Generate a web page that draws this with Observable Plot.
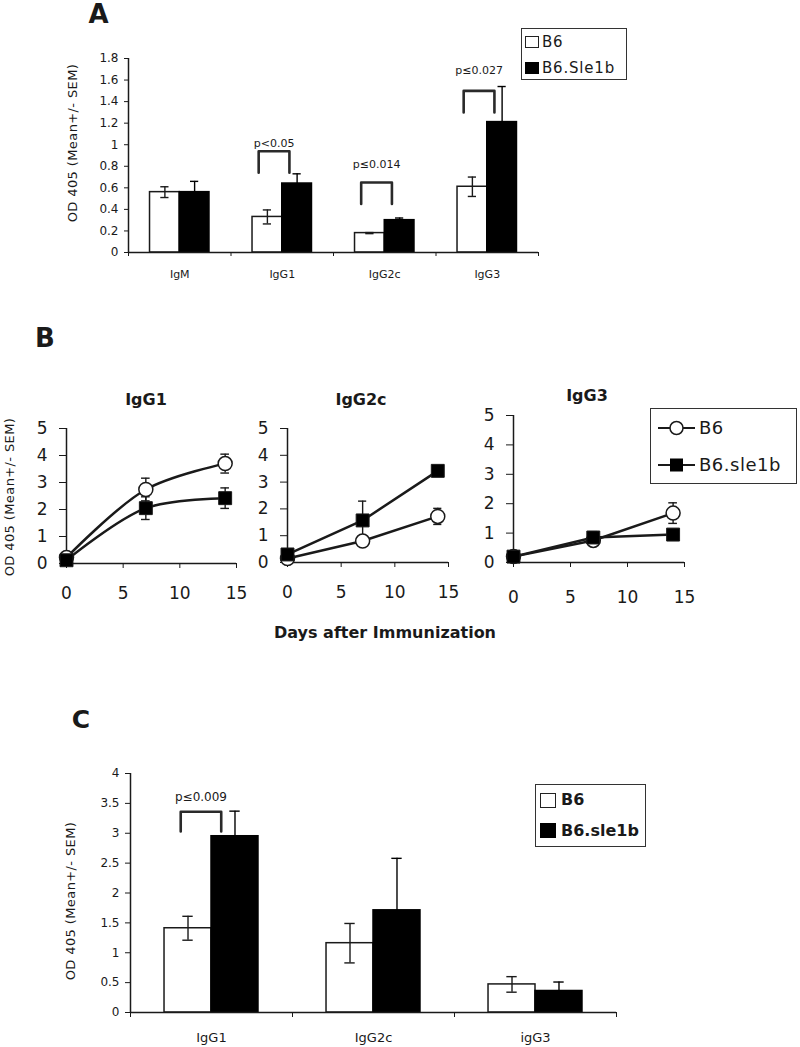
<!DOCTYPE html>
<html>
<head>
<meta charset="utf-8">
<script src="https://cdn.jsdelivr.net/npm/d3@7"></script>
<script src="https://cdn.jsdelivr.net/npm/@observablehq/plot@0.6"></script>
<style>
  body { margin: 0; background: #fff; }
  #root { position: relative; width: 800px; height: 1047px; overflow: hidden; font-family: "DejaVu Sans", sans-serif; color: #1a1a1a; background: #fff; }
  #root svg { position: absolute; }
</style>
</head>
<body>
<div id="root"></div>
<script>
// ---------------- DATA ----------------
// Panel A
const catsA = ["IgM", "IgG1", "IgG2c", "IgG3"];
const aB6 = [0.56, 0.33, 0.18, 0.61];
const aB6Sem = [0.05, 0.065, 0.005, 0.09];
const aSle = [0.56, 0.64, 0.30, 1.21];
const aSleSem = [0.10, 0.09, 0.02, 0.33];
const aTicks = [0, 0.2, 0.4, 0.6, 0.8, 1, 1.2, 1.4, 1.6, 1.8];
const aSigCats = ["IgG1", "IgG2c", "IgG3"];
const aSigText = ["p<0.05", "p≤0.014", "p≤0.027"];
const aSigTop = [0.94, 0.65, 1.50];
const aSigLeg = [0.74, 0.45, 1.30];
const aSigLabel = [1.01, 0.82, 1.69];

// Panel B
const days = [0, 7, 14];
const bTitles = ["IgG1", "IgG2c", "IgG3"];
const bB6 = [[0.22, 2.74, 3.70], [0.15, 0.80, 1.72], [0.20, 0.75, 1.68]];
const bB6Sem = [[0.05, 0.42, 0.35], [0.05, 0.10, 0.30], [0.05, 0.15, 0.35]];
const bSle = [[0.12, 2.05, 2.42], [0.30, 1.57, 3.42], [0.20, 0.85, 0.95]];
const bSleSem = [[0.05, 0.42, 0.38], [0.05, 0.72, 0.08], [0.05, 0.20, 0.08]];
const bXTicks = [0, 5, 10, 15];
const bYTicks = [0, 1, 2, 3, 4, 5];

// Panel C
const catsC = ["IgG1", "IgG2c", "igG3"];
const cB6 = [1.41, 1.16, 0.47];
const cB6Sem = [0.20, 0.33, 0.13];
const cSle = [2.95, 1.71, 0.36];
const cSleSem = [0.42, 0.87, 0.15];
const cTicks = [0, 0.5, 1, 1.5, 2, 2.5, 3, 3.5, 4];
const cSigCats = ["IgG1"];
const cSigText = ["p≤0.009"];
const cSigTop = [3.36];
const cSigLeg = [3.03];
const cSigLabel = [3.60];

const legendBar = ["B6", "B6.Sle1b"];
const legendBarC = ["B6", "B6.sle1b"];
const legendLine = ["B6", "B6.sle1b"];
const yTitle = "OD 405 (Mean+/- SEM)";
const xTitleB = "Days after Immunization";

// ---------------- HELPERS ----------------
const root = document.getElementById("root");
const INK = "#1a1a1a";

function label(str, cx, cy, style = {}, rotate = false) {
  const d = document.createElement("div");
  d.textContent = str;
  Object.assign(d.style, {
    position: "absolute", left: cx + "px", top: cy + "px",
    transform: "translate(-50%,-50%)" + (rotate ? " rotate(-90deg)" : ""),
    whiteSpace: "nowrap", lineHeight: "1"
  }, style);
  root.appendChild(d);
  return d;
}
function box(left, top, w, h, style = {}) {
  const d = document.createElement("div");
  Object.assign(d.style, {position: "absolute", left: left + "px", top: top + "px",
    width: w + "px", height: h + "px", boxSizing: "border-box"}, style);
  root.appendChild(d);
  return d;
}
function put(svg, left, top) {
  svg.style.left = left + "px";
  svg.style.top = top + "px";
  root.appendChild(svg);
}

function barPanel(cfg) {
  const n = cfg.cats.length;
  const rows = cfg.cats.map((c, i) => ({c, i, b6: cfg.b6[i], b6Sem: cfg.b6Sem[i], sle: cfg.sle[i], sleSem: cfg.sleSem[i]}));
  const bw = cfg.barW, cap = cfg.cap;
  const cen = d => d.i + 0.5;
  const sig = cfg.sigCats.map((c, k) => ({k, c: cfg.cats.indexOf(c) + 0.5, top: cfg.sigTop[k], leg: cfg.sigLeg[k], text: cfg.sigText[k], ty: cfg.sigLabel[k]}));
  const sigPts = sig.flatMap(s => [
    {k: s.k, x: s.c + cfg.brL, y: s.leg}, {k: s.k, x: s.c + cfg.brL, y: s.top},
    {k: s.k, x: s.c + cfg.brR, y: s.top}, {k: s.k, x: s.c + cfg.brR, y: s.leg}]);
  const err = (key, semKey, off, col) => [
    Plot.ruleX(rows, {x: d => cen(d) + off, y1: d => d[key] - d[semKey], y2: d => d[key] + d[semKey], stroke: col, strokeWidth: 1.4}),
    Plot.ruleY(rows, {y: d => d[key] - d[semKey], x1: d => cen(d) + off - cap, x2: d => cen(d) + off + cap, stroke: col, strokeWidth: 1.4}),
    Plot.ruleY(rows, {y: d => d[key] + d[semKey], x1: d => cen(d) + off - cap, x2: d => cen(d) + off + cap, stroke: col, strokeWidth: 1.4})
  ];
  return Plot.plot({
    width: cfg.width, height: cfg.height,
    marginLeft: cfg.ml, marginRight: cfg.mr, marginTop: cfg.mt, marginBottom: cfg.mb,
    x: {domain: [0, n], label: null},
    y: {domain: [0, cfg.yMax], label: null},
    style: {background: "transparent", overflow: "visible", fontFamily: "DejaVu Sans, sans-serif", color: INK},
    marks: [
      Plot.rect(rows, {x1: d => cen(d) - bw, x2: d => cen(d), y1: 0, y2: "b6", fill: "white", stroke: INK, strokeWidth: 1.5}),
      ...err("b6", "b6Sem", -bw / 2, INK),
      ...err("sle", "sleSem", bw / 2, "#000"),
      Plot.rect(rows, {x1: d => cen(d), x2: d => cen(d) + bw, y1: 0, y2: "sle", fill: "#000", stroke: "#000", strokeWidth: 1.5}),
      Plot.line(sigPts, {x: "x", y: "y", z: "k", stroke: "#2a2a2a", strokeWidth: 2.6}),
      Plot.text(sig, {x: d => d.c + (cfg.brL + cfg.brR) / 2, y: "ty", text: "text", fontSize: cfg.sigFont, fill: INK}),
      Plot.ruleY([0], {stroke: INK, strokeWidth: 1.5}),
      Plot.ruleX([0], {stroke: INK, strokeWidth: 1.5}),
      Plot.axisY({ticks: cfg.yTicks, tickSize: cfg.tickSize, tickPadding: cfg.yPad, fontSize: cfg.yFont, tickFormat: d => String(d), label: null}),
      Plot.axisX({ticks: d3.range(n + 1), tickSize: cfg.tickSize, tickFormat: () => "", label: null}),
      Plot.axisX({ticks: rows.map(cen), tickSize: 0, tickPadding: cfg.xPad, fontSize: cfg.xFont, tickFormat: d => cfg.cats[Math.floor(d)], label: null})
    ]
  });
}

function linePanel(k, cfg) {
  const b6 = days.map((d, i) => ({day: d, v: bB6[k][i], s: bB6Sem[k][i]}));
  const sle = days.map((d, i) => ({day: d, v: bSle[k][i], s: bSleSem[k][i]}));
  const cap = 0.38;
  const err = data => [
    Plot.ruleX(data, {x: "day", y1: d => d.v - d.s, y2: d => d.v + d.s, stroke: INK, strokeWidth: 1.4}),
    Plot.ruleY(data, {y: d => d.v - d.s, x1: d => d.day - cap, x2: d => d.day + cap, stroke: INK, strokeWidth: 1.4}),
    Plot.ruleY(data, {y: d => d.v + d.s, x1: d => d.day - cap, x2: d => d.day + cap, stroke: INK, strokeWidth: 1.4})
  ];
  return Plot.plot({
    width: cfg.width, height: cfg.height,
    marginLeft: cfg.ml, marginRight: cfg.mr, marginTop: cfg.mt, marginBottom: cfg.mb,
    x: {domain: [0, 15], label: null},
    y: {domain: [0, 5], label: null},
    style: {background: "transparent", overflow: "visible", fontFamily: "DejaVu Sans, sans-serif", color: INK},
    marks: [
      Plot.ruleY([0], {stroke: INK, strokeWidth: 1.5}),
      Plot.ruleX([0], {stroke: INK, strokeWidth: 1.5}),
      Plot.axisY({ticks: bYTicks, tickSize: 7, tickPadding: 12, fontSize: 17, tickFormat: d => String(d), label: null}),
      Plot.axisX({ticks: bXTicks, tickSize: 5, tickPadding: cfg.xPad, fontSize: 17, tickFormat: d => String(d), label: null}),
      ...err(b6), ...err(sle),
      Plot.line(b6, {x: "day", y: "v", curve: cfg.curve, stroke: INK, strokeWidth: 2.5}),
      Plot.line(sle, {x: "day", y: "v", curve: cfg.curve, stroke: INK, strokeWidth: 2.5}),
      Plot.dot(b6, {x: "day", y: "v", r: 7, fill: "white", stroke: INK, strokeWidth: 1.5}),
      Plot.dot(sle, {x: "day", y: "v", r: 7.3, symbol: "square", fill: "black", stroke: INK, strokeWidth: 1})
    ]
  });
}

// ---------------- PANEL A ----------------
label("A", 98.5, 14, {fontWeight: "bold", fontSize: "26px"});
put(barPanel({
  cats: catsA, b6: aB6, b6Sem: aB6Sem, sle: aSle, sleSem: aSleSem, yTicks: aTicks, yMax: 1.8,
  sigCats: aSigCats, sigText: aSigText, sigTop: aSigTop, sigLeg: aSigLeg, sigLabel: aSigLabel,
  width: 560, height: 250, ml: 128, mr: 22, mt: 18, mb: 38,
  barW: 0.29, cap: 0.04, brL: -0.23, brR: 0.07, sigFont: 11,
  tickSize: 4, yPad: 6, yFont: 12, xPad: 18, xFont: 11
}), 0, 40);
label(yTitle, 72, 143, {fontSize: "13px", letterSpacing: "0.4px"}, true);
// legend A
box(521, 28, 106, 52, {border: "1.5px solid #333"});
box(525, 36, 14, 12, {border: "1.3px solid #222", background: "#fff"});
box(525, 62, 14, 12, {background: "#000"});
label(legendBar[0], 542, 42, {fontSize: "15px", transform: "translate(0,-50%)", letterSpacing: "0.8px"});
label(legendBar[1], 542, 68, {fontSize: "15px", transform: "translate(0,-50%)", letterSpacing: "0.8px"});

// ---------------- PANEL B ----------------
label("B", 45, 338, {fontWeight: "bold", fontSize: "26px"});
const bCfg = [
  {left: 0, top: 410, width: 255, height: 200, ml: 66, mr: 19, mt: 18, mb: 47, xPad: 18, curve: "catmull-rom", tx: 146, ty: 400},
  {left: 220, top: 410, width: 240, height: 200, ml: 67, mr: 12, mt: 18, mb: 48, xPad: 18, curve: "linear", tx: 361, ty: 400},
  {left: 440, top: 400, width: 260, height: 210, ml: 73, mr: 16, mt: 15, mb: 48, xPad: 23, curve: "linear", tx: 587, ty: 396}
];
bCfg.forEach((c, k) => {
  put(linePanel(k, c), c.left, c.top);
  label(bTitles[k], c.tx, c.ty, {fontWeight: "bold", fontSize: "16px"});
});
label(xTitleB, 385, 633, {fontWeight: "bold", fontSize: "16px"});
label(yTitle, 9, 497, {fontSize: "13px", letterSpacing: "0.4px"}, true);
// legend B
box(650, 408, 147, 76, {border: "1.5px solid #333"});
[428, 465].forEach((cy, i) => {
  const ns = "http://www.w3.org/2000/svg";
  const s = document.createElementNS(ns, "svg");
  s.setAttribute("width", 40); s.setAttribute("height", 20);
  s.style.left = "657px"; s.style.top = (cy - 10) + "px";
  const ln = document.createElementNS(ns, "line");
  ln.setAttribute("x1", 1); ln.setAttribute("x2", 38); ln.setAttribute("y1", 10); ln.setAttribute("y2", 10);
  ln.setAttribute("stroke", INK); ln.setAttribute("stroke-width", 2.2);
  s.appendChild(ln);
  let m;
  if (i === 0) {
    m = document.createElementNS(ns, "circle");
    m.setAttribute("cx", 19.5); m.setAttribute("cy", 10); m.setAttribute("r", 6.5);
    m.setAttribute("fill", "#fff"); m.setAttribute("stroke", INK); m.setAttribute("stroke-width", 1.5);
  } else {
    m = document.createElementNS(ns, "rect");
    m.setAttribute("x", 13); m.setAttribute("y", 3.5); m.setAttribute("width", 13); m.setAttribute("height", 13);
    m.setAttribute("fill", "#000");
  }
  s.appendChild(m);
  root.appendChild(s);
  label(legendLine[i], 699, cy, {fontSize: "18px", transform: "translate(0,-50%)", letterSpacing: "0.5px"});
});

// ---------------- PANEL C ----------------
label("C", 81, 719, {fontWeight: "bold", fontSize: "25px"});
put(barPanel({
  cats: catsC, b6: cB6, b6Sem: cB6Sem, sle: cSle, sleSem: cSleSem, yTicks: cTicks, yMax: 4,
  sigCats: cSigCats, sigText: cSigText, sigTop: cSigTop, sigLeg: cSigLeg, sigLabel: cSigLabel,
  width: 640, height: 287, ml: 130, mr: 24, mt: 13, mb: 35,
  barW: 0.29, cap: 0.032, brL: -0.19, brR: 0.06, sigFont: 12,
  tickSize: 5, yPad: 6, yFont: 12, xPad: 20, xFont: 13
}), 0, 760);
label(yTitle, 70, 901, {fontSize: "13px", letterSpacing: "0.4px"}, true);
// legend C
box(535, 784, 111, 63, {border: "1.5px solid #333"});
box(540, 793, 16, 15, {border: "1.3px solid #222", background: "#fff"});
box(540, 823, 16, 15, {background: "#000"});
label(legendBarC[0], 561, 800, {fontSize: "16px", fontWeight: "bold", transform: "translate(0,-50%)"});
label(legendBarC[1], 561, 831, {fontSize: "16px", fontWeight: "bold", transform: "translate(0,-50%)"});
</script>
</body>
</html>
